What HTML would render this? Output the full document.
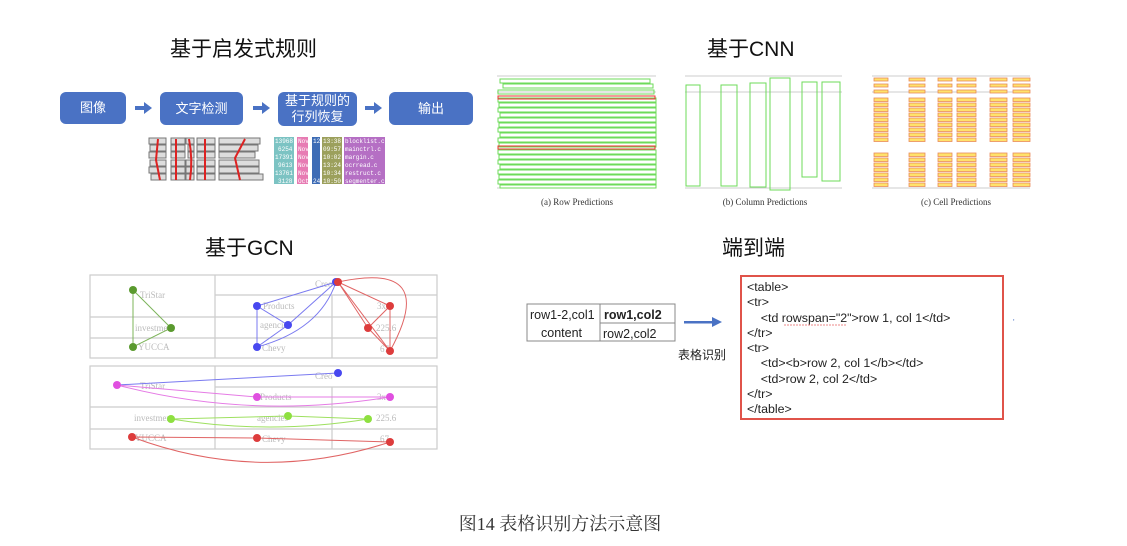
<!DOCTYPE html>
<html><head><meta charset="utf-8"><style>
body{margin:0;width:1127px;height:546px;background:#fff;position:relative;overflow:hidden;font-family:"Liberation Sans","Noto Sans CJK SC",sans-serif}
.a{position:absolute}
.t{font-size:21px;color:#111;white-space:nowrap}
.b{position:absolute;background:#4a72c4;color:#fff;border-radius:6px;display:flex;align-items:center;justify-content:center;text-align:center;font-size:13px;line-height:16px}
.code{position:absolute;left:740px;top:275px;width:264px;height:145px;border:2px solid #e0534a;font-size:12.4px;color:#222;line-height:15.3px;padding:3px 0 0 5px;box-sizing:border-box;white-space:pre}
</style></head><body>
<div class="a t" style="left:170px;top:33px">基于启发式规则</div>
<div class="a t" style="left:707px;top:33px">基于CNN</div>
<div class="a t" style="left:205px;top:232px">基于GCN</div>
<div class="a t" style="left:722px;top:232px">端到端</div>

<div class="b" style="left:60px;top:92px;width:66px;height:32px">图像</div>
<div class="b" style="left:160px;top:92px;width:83px;height:33px">文字检测</div>
<div class="b" style="left:278px;top:92px;width:79px;height:34px">基于规则的<br>行列恢复</div>
<div class="b" style="left:389px;top:92px;width:84px;height:33px">输出</div>

<svg class="a" style="left:0;top:0" width="1127" height="546">
<g fill="#4a72c4">
<rect x="135" y="106" width="10" height="4"/><polygon points="144,102 152,108 144,114"/>
<rect x="253" y="106" width="10" height="4"/><polygon points="262,102 270,108 262,114"/>
<rect x="365" y="106" width="10" height="4"/><polygon points="374,102 382,108 374,114"/>
</g>
<g fill="#ddd" stroke="#777" stroke-width="1">
<rect x="149" y="138" width="17" height="6"/><rect x="150" y="145" width="16" height="6"/><rect x="149" y="152" width="17" height="6"/><rect x="150" y="160" width="16" height="6"/><rect x="149" y="167" width="17" height="6"/><rect x="151" y="174" width="15" height="6"/>
<rect x="171" y="138" width="14" height="6"/><rect x="171" y="145" width="14" height="6"/><rect x="171" y="152" width="14" height="6"/><rect x="171" y="160" width="14" height="6"/><rect x="171" y="167" width="14" height="6"/><rect x="171" y="174" width="14" height="6"/>
<rect x="186" y="138" width="8" height="6"/><rect x="188" y="145" width="6" height="6"/><rect x="188" y="152" width="6" height="6"/><rect x="186" y="160" width="8" height="6"/><rect x="186" y="167" width="8" height="6"/><rect x="186" y="174" width="8" height="6"/>
<rect x="197" y="138" width="18" height="6"/><rect x="197" y="145" width="18" height="6"/><rect x="197" y="152" width="18" height="6"/><rect x="197" y="160" width="18" height="6"/><rect x="197" y="167" width="18" height="6"/><rect x="197" y="174" width="18" height="6"/>
<rect x="219" y="138" width="41" height="6"/><rect x="219" y="145" width="39" height="6"/><rect x="219" y="152" width="36" height="6"/><rect x="219" y="160" width="40" height="6"/><rect x="219" y="167" width="40" height="6"/><rect x="219" y="174" width="44" height="6"/>
</g>
<g stroke="#d22" stroke-width="2" fill="none">
<path d="M158,139 L156,160 L160,180"/><path d="M176,139 L176,180"/><path d="M189,139 Q193,160 190,180"/><path d="M205,139 L205,180"/><path d="M245,139 L235,158 L240,180"/>
</g>
<g font-family="Liberation Mono" font-size="6" fill="#fff">
<rect x="274" y="137" width="20" height="47" fill="#7cc3c3"/><rect x="297" y="137" width="11" height="47" fill="#e77bb3"/>
<rect x="312" y="137" width="8" height="47" fill="#3e6cb5"/><rect x="322" y="137" width="20" height="47" fill="#9ca05c"/>
<rect x="344" y="137" width="41" height="47" fill="#b56fc4"/>
<text x="275" y="143">13968</text><text x="278" y="151">6254</text><text x="275" y="159">17391</text><text x="278" y="167">9613</text><text x="275" y="175">13761</text><text x="278" y="183">3128</text>
<text x="298" y="143">Nov</text><text x="298" y="151">Nov</text><text x="298" y="159">Nov</text><text x="298" y="167">Nov</text><text x="298" y="175">Nov</text><text x="298" y="183">Oct</text>
<text x="313" y="143">12</text><text x="313" y="183">24</text>
<text x="323" y="143">13:38</text><text x="323" y="151">09:57</text><text x="323" y="159">10:02</text><text x="323" y="167">13:24</text><text x="323" y="175">10:34</text><text x="323" y="183">10:50</text>
<text x="345" y="143">blocklist.c</text><text x="345" y="151">mainctrl.c</text><text x="345" y="159">margin.c</text><text x="345" y="167">ocrread.c</text><text x="345" y="175">restruct.c</text><text x="345" y="183">segmenter.c</text>
</g>

<g stroke="#999" stroke-width="0.6">
<line x1="497" y1="76" x2="656" y2="76"/><line x1="497" y1="92" x2="656" y2="92"/>
<line x1="497" y1="188" x2="656" y2="188"/>
<line x1="685" y1="76" x2="842" y2="76"/><line x1="685" y1="92" x2="842" y2="92"/><line x1="685" y1="188" x2="842" y2="188"/>
<line x1="872" y1="76" x2="1030" y2="76"/><line x1="872" y1="92" x2="1030" y2="92"/><line x1="872" y1="188" x2="1030" y2="188"/>
</g>
<g stroke="#6ddb5a" stroke-width="1" fill="none">
<rect x="500" y="79" width="150" height="4"/><rect x="503" y="84" width="150" height="4"/>
<rect x="498" y="90" width="156" height="4"/>
<rect x="498" y="98" width="158" height="4"/><rect x="499" y="103" width="157" height="4"/><rect x="498" y="108" width="158" height="4"/><rect x="500" y="113" width="156" height="4"/><rect x="498" y="118" width="158" height="4"/><rect x="499" y="123" width="157" height="4"/><rect x="498" y="128" width="158" height="4"/><rect x="500" y="133" width="156" height="4"/><rect x="498" y="138" width="158" height="4"/><rect x="499" y="143" width="157" height="4"/>
<rect x="498" y="150" width="158" height="4"/><rect x="499" y="155" width="157" height="4"/><rect x="498" y="160" width="158" height="4"/><rect x="500" y="165" width="156" height="4"/><rect x="498" y="170" width="158" height="4"/><rect x="499" y="175" width="157" height="4"/><rect x="498" y="180" width="158" height="4"/><rect x="500" y="185" width="156" height="3"/>
<rect x="686" y="85" width="14" height="101"/><rect x="721" y="85" width="16" height="101"/><rect x="750" y="83" width="16" height="104"/><rect x="770" y="78" width="20" height="112"/><rect x="802" y="82" width="15" height="95"/><rect x="822" y="82" width="18" height="99"/>
</g>
<rect x="498" y="96" width="157" height="3" fill="none" stroke="#e33" stroke-width="1"/>
<rect x="498" y="146" width="157" height="3" fill="none" stroke="#e33" stroke-width="1"/>
<g fill="#ffe26a" stroke="#e98b5c" stroke-width="0.8">
<rect x="874" y="78" width="14" height="3"/><rect x="874" y="84" width="14" height="3"/><rect x="874" y="90" width="14" height="3"/>
<rect x="909" y="78" width="16" height="3"/><rect x="909" y="84" width="16" height="3"/><rect x="909" y="90" width="16" height="3"/>
<rect x="938" y="78" width="14" height="3"/><rect x="938" y="84" width="14" height="3"/><rect x="938" y="90" width="14" height="3"/>
<rect x="957" y="78" width="19" height="3"/><rect x="957" y="84" width="19" height="3"/><rect x="957" y="90" width="19" height="3"/>
<rect x="990" y="78" width="17" height="3"/><rect x="990" y="84" width="17" height="3"/><rect x="990" y="90" width="17" height="3"/>
<rect x="1013" y="78" width="17" height="3"/><rect x="1013" y="84" width="17" height="3"/><rect x="1013" y="90" width="17" height="3"/>
</g>
<g id="cells" fill="#ffe26a" stroke="#e98b5c" stroke-width="0.8"></g>
<g font-family="Liberation Serif" font-size="9" fill="#333" text-anchor="middle">
<text x="577" y="205">(a) Row Predictions</text><text x="765" y="205">(b) Column Predictions</text><text x="956" y="205">(c) Cell Predictions</text>
</g>

<g stroke="#ccc" stroke-width="1.2" fill="none">
<rect x="90" y="275" width="347" height="83"/>
<line x1="215" y1="275" x2="215" y2="358"/><line x1="332" y1="295" x2="332" y2="358"/>
<line x1="215" y1="295" x2="437" y2="295"/><line x1="90" y1="317" x2="437" y2="317"/><line x1="90" y1="338" x2="437" y2="338"/>
<rect x="90" y="366" width="347" height="83"/>
<line x1="215" y1="366" x2="215" y2="449"/><line x1="332" y1="387" x2="332" y2="449"/>
<line x1="215" y1="387" x2="437" y2="387"/><line x1="90" y1="407" x2="437" y2="407"/><line x1="90" y1="429" x2="437" y2="429"/>
</g>
<g font-family="Liberation Serif" font-size="9" fill="#bbb">
<text x="140" y="298">TriStar</text><text x="135" y="331">investment</text><text x="138" y="350">YUCCA</text>
<text x="263" y="309">Products</text><text x="260" y="328">agencies</text><text x="262" y="351">Chevy</text><text x="315" y="287">Creo</text>
<text x="377" y="309">3x</text><text x="376" y="331">225.6</text><text x="380" y="352">67</text>
<text x="140" y="389">TriStar</text><text x="134" y="421">investment</text><text x="135" y="441">YUCCA</text>
<text x="260" y="400">Products</text><text x="257" y="421">agencies</text><text x="262" y="442">Chevy</text><text x="315" y="379">Creo</text>
<text x="377" y="400">3x</text><text x="376" y="421">225.6</text><text x="380" y="442">67</text>
</g>
<g fill="none" stroke-width="1">
<path d="M133,290 L171,328 L133,347 Z" stroke="#7db45a"/>
<path d="M336,282 L257,306 L288,325 L336,282 M257,306 L257,347 L288,325 M257,347 Q320,330 336,282" stroke="#7a7af0"/>
<path d="M338,282 L390,306 L390,351 L368,328 L390,306 M338,282 L368,328 M338,282 L390,351 M338,282 Q440,260 390,351" stroke="#e06464"/>
<path d="M117,385 L338,373" stroke="#7a7af0"/>
<path d="M117,385 L257,397 L390,397 M117,385 Q250,420 390,397" stroke="#e57be5"/>
<path d="M171,419 L288,416 L368,419 M171,419 Q270,435 368,419" stroke="#9ee060"/>
<path d="M132,437 L257,438 L390,442 M132,437 Q260,485 390,442" stroke="#e06464"/>
</g>
<g>
<circle cx="133" cy="290" r="4" fill="#5a9a2e"/><circle cx="171" cy="328" r="4" fill="#5a9a2e"/><circle cx="133" cy="347" r="4" fill="#5a9a2e"/>
<circle cx="257" cy="306" r="4" fill="#4848f0"/><circle cx="288" cy="325" r="4" fill="#4848f0"/><circle cx="257" cy="347" r="4" fill="#4848f0"/><circle cx="336" cy="282" r="4" fill="#4848f0"/>
<circle cx="338" cy="282" r="4" fill="#dd3c3c"/><circle cx="390" cy="306" r="4" fill="#dd3c3c"/><circle cx="368" cy="328" r="4" fill="#dd3c3c"/><circle cx="390" cy="351" r="4" fill="#dd3c3c"/>
<circle cx="338" cy="373" r="4" fill="#4848f0"/><circle cx="117" cy="385" r="4" fill="#e050e0"/><circle cx="257" cy="397" r="4" fill="#e050e0"/><circle cx="390" cy="397" r="4" fill="#e050e0"/>
<circle cx="171" cy="419" r="4" fill="#8ee040"/><circle cx="288" cy="416" r="4" fill="#8ee040"/><circle cx="368" cy="419" r="4" fill="#8ee040"/>
<circle cx="132" cy="437" r="4" fill="#dd3c3c"/><circle cx="257" cy="438" r="4" fill="#dd3c3c"/><circle cx="390" cy="442" r="4" fill="#dd3c3c"/>
</g>

<g stroke="#888" stroke-width="1" fill="none">
<rect x="527" y="304" width="148" height="37"/><line x1="600" y1="304" x2="600" y2="341"/><line x1="600" y1="323" x2="675" y2="323"/>
</g>
<g font-size="12.5" fill="#222">
<text x="530" y="319">row1-2,col1</text><text x="604" y="319" font-weight="bold">row1,col2</text>
<text x="541" y="337">content</text><text x="603" y="338">row2,col2</text>
</g>
<rect x="684" y="321" width="30" height="2.5" fill="#4a72c4"/><polygon points="712,317 722,322 712,327" fill="#4a72c4"/>
<text x="678" y="359" font-size="12" fill="#222">表格识别</text>
<line x1="784" y1="325" x2="846" y2="325" stroke="#e88" stroke-width="1" stroke-dasharray="2,1"/>
<text x="1013" y="325" font-size="8" fill="#4a72c4">'</text>
<text x="560" y="530" text-anchor="middle" font-family="Liberation Serif,'Noto Serif CJK SC',serif" font-size="18" fill="#333">图14 表格识别方法示意图</text>
</svg>
<div class="code">&lt;table&gt;
&lt;tr&gt;
    &lt;td rowspan="2"&gt;row 1, col 1&lt;/td&gt;
&lt;/tr&gt;
&lt;tr&gt;
    &lt;td&gt;&lt;b&gt;row 2, col 1&lt;/b&gt;&lt;/td&gt;
    &lt;td&gt;row 2, col 2&lt;/td&gt;
&lt;/tr&gt;
&lt;/table&gt;</div>
<script>
var g=document.getElementById('cells'),xs=[[874,14],[909,16],[938,14],[957,19],[990,17],[1013,17]],s='';
for(var y=98;y<186;y+=5){if(y>141&&y<152)continue;xs.forEach(function(c){s+='<rect x="'+c[0]+'" y="'+y+'" width="'+c[1]+'" height="3.5"/>';});}
g.innerHTML=s;
</script>
</body></html>
